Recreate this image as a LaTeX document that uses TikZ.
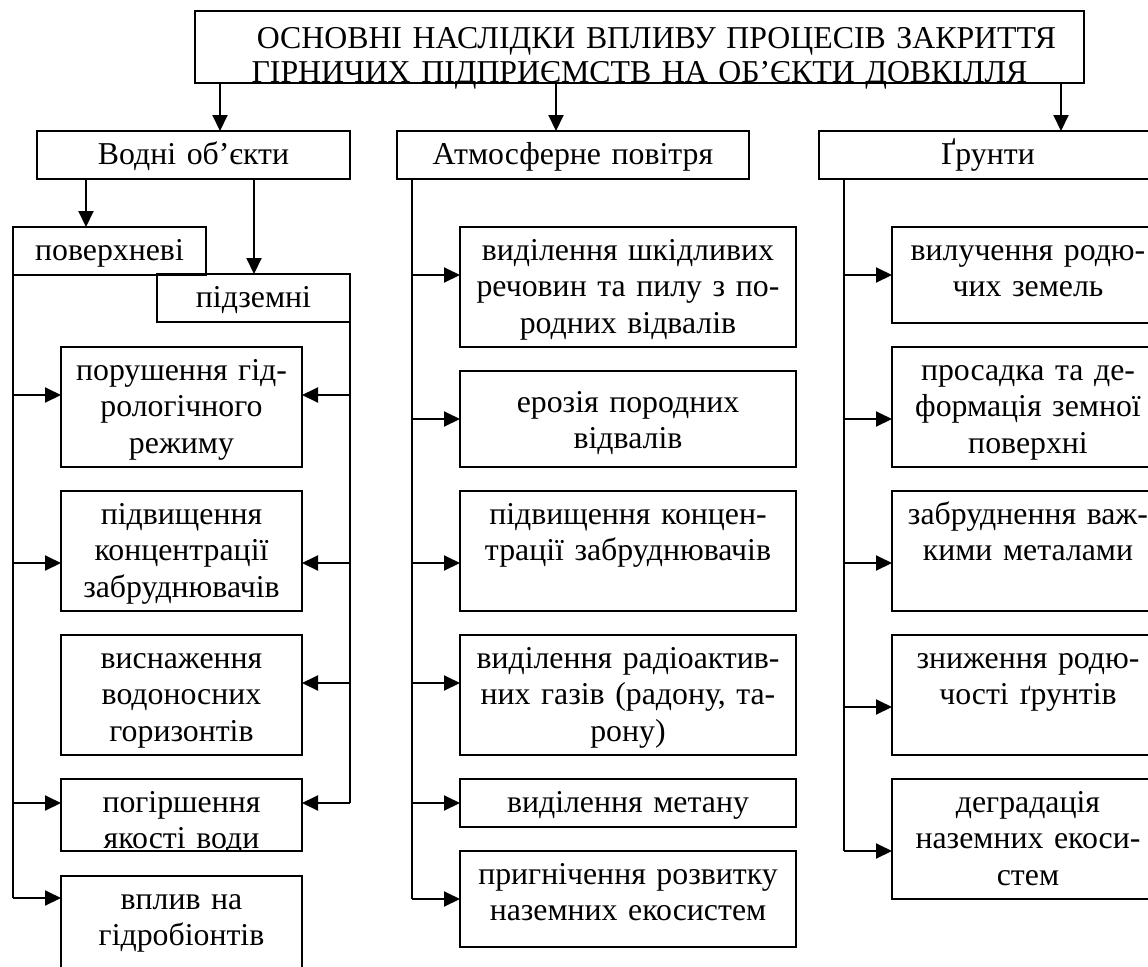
\documentclass[tikz,border=0pt]{standalone}
\usepackage{fontspec}
\setmainfont{Liberation Serif}
\usetikzlibrary{arrows.meta,calc}

\begin{document}
\begin{tikzpicture}[x=0.5pt,y=-0.5pt,
  box/.style={draw, line width=1pt, anchor=north west, outer sep=0pt,
    align=center, inner xsep=0pt, inner ysep=0pt,
    font=\fontsize{15.9pt}{18.25pt}\selectfont, text height=16.5pt},
  h48/.style={box, text depth=7.5pt},
  h72/.style={box, text depth=19.5pt},
  h96/.style={box, text depth=31.5pt},
  h120/.style={box, text depth=43.5pt},
  lcol/.style={text width=120.5pt},
  mcol/.style={text width=168pt},
  rcol/.style={text width=136pt},
  arr/.style={line width=1pt, -{Triangle[length=8pt,width=7.5pt]}},
  spine/.style={line width=1pt}]
  \useasboundingbox (0,0) rectangle (1148,966);

  % title
  \node[box, text width=444.5pt, text height=18.5pt, text depth=17.5pt,
    font=\fontsize{15.9pt}{17pt}\selectfont] (top) at (195,11)
    {\hspace*{17pt}ОСНОВНІ НАСЛІДКИ ВПЛИВУ ПРОЦЕСІВ ЗАКРИТТЯ\\ГІРНИЧИХ ПІДПРИЄМСТВ НА ОБ’ЄКТИ ДОВКІЛЛЯ};

  % groups
  \node[h48, text width=156.5pt] (water) at (37,131) {Водні об’єкти};
  \node[h48, text width=176pt] (air) at (397,131) {Атмосферне повітря};
  \node[h48, text width=169pt] (soil) at (819,131) {Ґрунти};

  \coordinate (xw) at (220,0);
  \coordinate (xa) at (556,0);
  \coordinate (xs) at (1061,0);
  \draw[arr] (top.south -| xw) -- (water.north -| xw);
  \draw[arr] (top.south -| xa) -- (air.north -| xa);
  \draw[arr] (top.south -| xs) -- (soil.north -| xs);

  % water
  \node[h48, text width=96.5pt] (surf) at (13,227) {поверхневі};
  \node[h48, text width=96.5pt] (under) at (157,274) {підземні};
  \coordinate (xsf) at (86,0);
  \coordinate (xud) at (254,0);
  \draw[arr] (water.south -| xsf) -- (surf.north -| xsf);
  \draw[arr] (water.south -| xud) -- (under.north -| xud);

  \node[h120, lcol] (w1) at (61,347) {порушення гід-\\рологічного\\режиму};
  \node[h120, lcol] (w2) at (61,491) {підвищення\\концентрації\\забруднювачів};
  \node[h120, lcol] (w3) at (61,635) {виснаження\\водоносних\\горизонтів};
  \node[h72, lcol] (w4) at (61,779) {погіршення\\якості води};
  \fill[white] ([yshift=-0.5pt]w4.south west) rectangle ([yshift=-8pt]w4.south east);
  \node[h120, lcol] (w5) at (61,876) {вплив на\\гідробіонтів};

  \draw[spine] (surf.south west) -- ($(surf.south west |- w5.west)+(0,19pt)$);
  \foreach \b/\d in {w1/6pt, w2/-6pt, w4/6pt, w5/19pt}
    \draw[arr] ($(surf.south west |- \b.west)+(0,\d)$) -- ($(\b.west)+(0,\d)$);
  \draw[spine] (under.south east) -- ($(under.south east |- w4.east)+(0,6pt)$);
  \foreach \b/\d in {w1/6pt, w2/-6pt, w3/6pt, w4/6pt}
    \draw[arr] ($(under.south east |- \b.east)+(0,\d)$) -- ($(\b.east)+(0,\d)$);

  % air
  \node[h120, mcol] (a1) at (460,227) {виділення шкідливих\\речовин та пилу з по-\\родних відвалів};
  \node[h96, mcol, text height=20.5pt, text depth=27.5pt] (a2) at (460,371) {ерозія породних\\відвалів};
  \node[h120, mcol] (a3) at (460,491) {підвищення концен-\\трації забруднювачів};
  \node[h120, mcol] (a4) at (460,635) {виділення радіоактив-\\них газів (радону, та-\\рону)};
  \node[h48, mcol] (a5) at (460,779) {виділення метану};
  \node[h96, mcol] (a6) at (460,851) {пригнічення розвитку\\наземних екосистем};

  \coordinate (ma) at (412,0);
  \draw[spine] (air.south -| ma) -- (ma |- a6.west);
  \foreach \b/\d in {a1/6pt, a2/0pt, a3/-6pt, a4/6pt, a5/0pt, a6/0pt}
    \draw[arr] ($(ma |- \b.west)+(0,\d)$) -- ($(\b.west)+(0,\d)$);

  % soil
  \node[h96, rcol] (s1) at (892,227) {вилучення родю-\\чих земель};
  \node[h120, rcol] (s2) at (892,347) {просадка та де-\\формація земної\\поверхні};
  \node[h120, rcol] (s3) at (892,491) {забруднення важ-\\кими металами};
  \node[h120, rcol] (s4) at (892,635) {зниження родю-\\чості ґрунтів};
  \node[h120, rcol] (s5) at (892,779) {деградація\\наземних екоси-\\стем};

  \coordinate (ms) at (844,0);
  \draw[spine] (soil.south -| ms) -- ($(ms |- s5.west)+(0,-6pt)$);
  \foreach \b/\d in {s1/0pt, s2/-6pt, s3/-6pt, s4/-6pt, s5/-6pt}
    \draw[arr] ($(ms |- \b.west)+(0,\d)$) -- ($(\b.west)+(0,\d)$);
\end{tikzpicture}
\end{document}
